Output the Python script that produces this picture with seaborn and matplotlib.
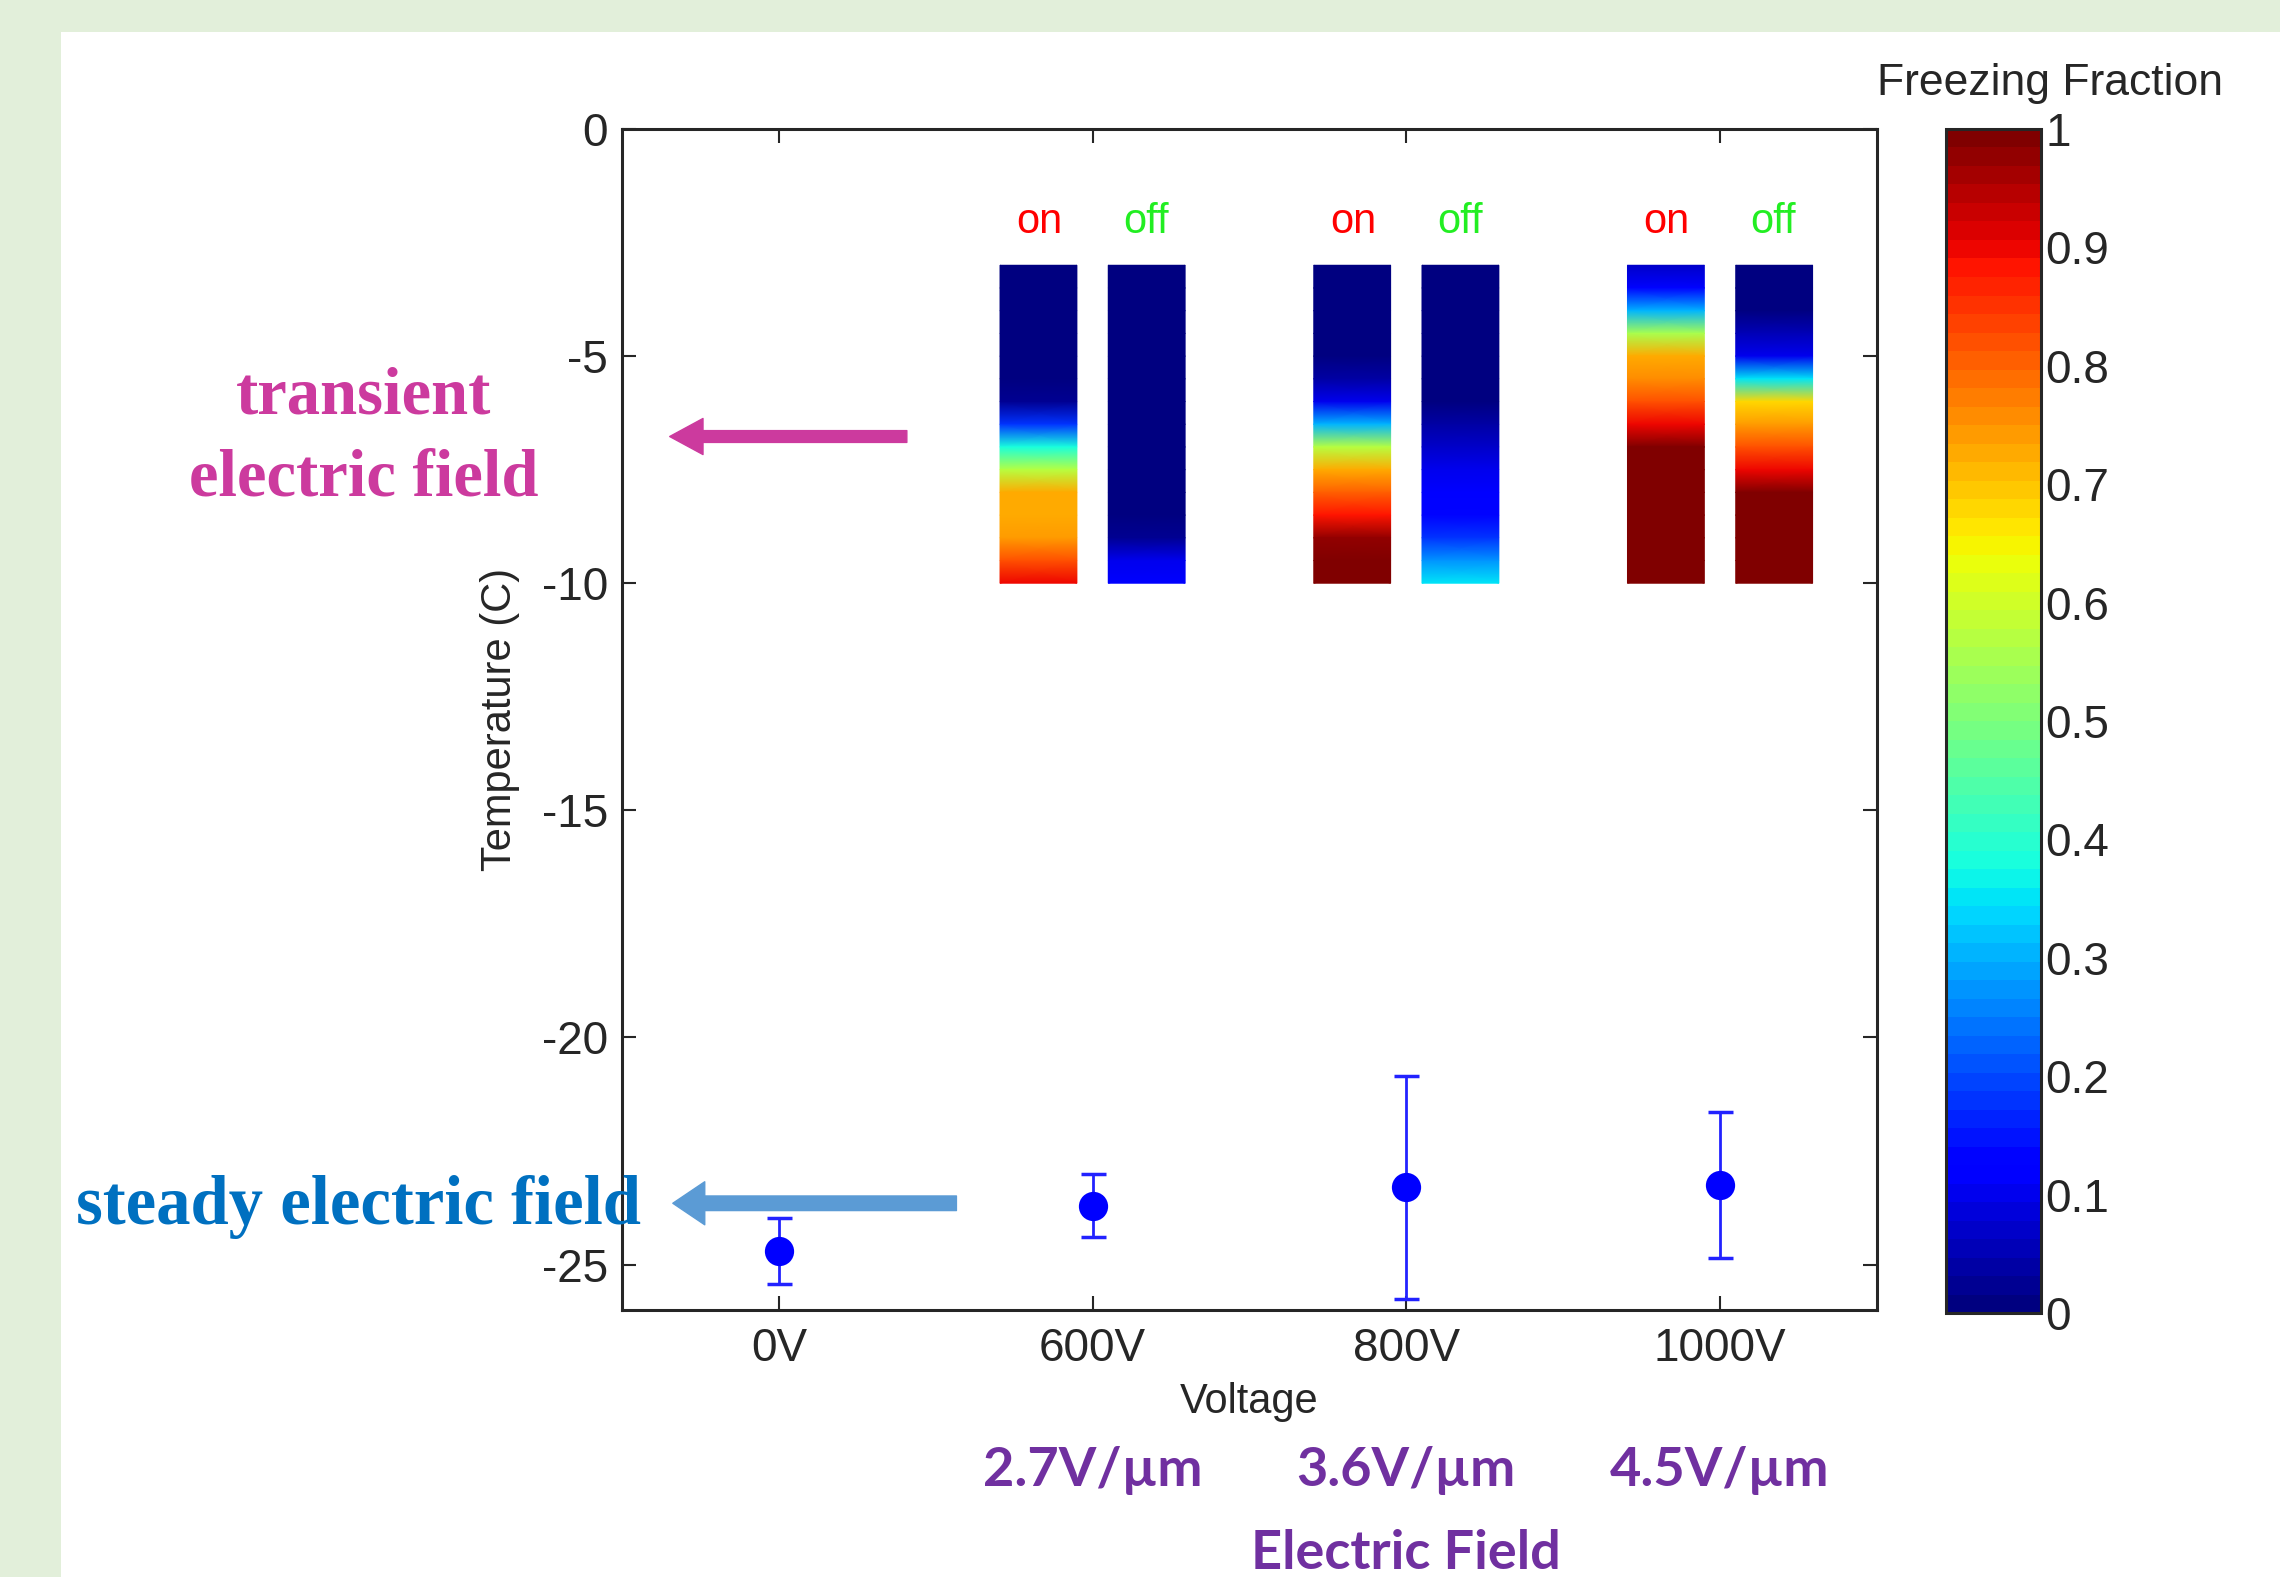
import numpy as np
import pandas as pd
import matplotlib
matplotlib.use("Agg")
import matplotlib.pyplot as plt
import seaborn as sns

# ----------------------------
# 1. Data
# ----------------------------
voltages = ["0V", "600V", "800V", "1000V"]
mean_temp = [-24.7, -23.7, -23.3, -23.25]
temp_err = [0.72, 0.69, 2.45, 1.6]

field_labels = ["2.7V/µm", "3.6V/µm", "4.5V/µm"]

# freezing-fraction profiles along the temperature axis (-3 C down to -10 C)
profile_temps = [-3.0, -3.5, -4.0, -4.5, -5.0, -5.5, -6.0, -6.5,
                 -7.0, -7.5, -8.0, -8.5, -9.0, -9.5, -10.0]
on_600 = [0, 0, 0, 0, 0, 0, 0.02, 0.18, 0.38, 0.57, 0.73, 0.73, 0.74, 0.82, 0.90]
off_600 = [0, 0, 0, 0, 0, 0, 0, 0, 0, 0, 0, 0, 0.02, 0.10, 0.12]
on_800 = [0, 0, 0, 0, 0, 0.04, 0.10, 0.30, 0.57, 0.72, 0.80, 0.89, 0.98, 1.0, 1.0]
off_800 = [0, 0, 0, 0, 0, 0, 0, 0.04, 0.07, 0.10, 0.11, 0.13, 0.18, 0.27, 0.35]
on_1000 = [0.07, 0.13, 0.30, 0.55, 0.72, 0.75, 0.82, 0.90, 1.0, 1.0, 1.0, 1.0, 1.0, 1.0, 1.0]
off_1000 = [0, 0, 0, 0.05, 0.10, 0.35, 0.68, 0.74, 0.82, 0.90, 1.0, 1.0, 1.0, 1.0, 1.0]

df = pd.DataFrame({"voltage": voltages, "temp": mean_temp, "err": temp_err})
df["pos"] = range(len(df))

# ----------------------------
# 2. Style
# ----------------------------
sns.set_style("ticks")
plt.rcParams["font.family"] = ["Liberation Sans Narrow", "Liberation Sans", "DejaVu Sans"]
plt.rcParams["axes.unicode_minus"] = False

fig = plt.figure(figsize=(22.8, 15.77), dpi=100, facecolor="#E2EFDA")
fig.patches.append(plt.Rectangle((0.0268, 0), 1 - 0.0268, 0.9797,
                                 transform=fig.transFigure, facecolor="white",
                                 edgecolor="none", zorder=-10))

ax = fig.add_axes([0.2728, 0.1693, 0.5504, 0.7489])
jet = plt.get_cmap("jet", 64)

# ----------------------------
# 3. Heat-map columns (on / off)
# ----------------------------
pairs = [(on_600, off_600), (on_800, off_800), (on_1000, off_1000)]
mesh = None
for k, (on, off) in enumerate(pairs):
    xc = k + 1
    for prof, (x0, x1) in [(on, (xc - 0.295, xc - 0.05)), (off, (xc + 0.05, xc + 0.295))]:
        X = [[x0, x1] for _ in profile_temps]
        Y = [[t, t] for t in profile_temps]
        C = [[v, v] for v in prof]
        mesh = ax.pcolormesh(X, Y, C, shading="gouraud", cmap=jet, vmin=0, vmax=1)
    ax.text(xc - 0.17, -2.05, "on", color="#FF0000", ha="center", va="center", fontsize=30)
    ax.text(xc + 0.17, -2.05, "off", color="#22EE22", ha="center", va="center", fontsize=30)

# ----------------------------
# 4. Mean freezing temperature with error bars
# ----------------------------
ax.errorbar(df["pos"], df["temp"], yerr=df["err"], fmt="none",
            ecolor="#2222FF", elinewidth=2, capsize=9, capthick=2.5, zorder=3)
sns.scatterplot(data=df, x="pos", y="temp", color="#0000FF", s=380,
                edgecolor="#0000FF", ax=ax, zorder=4, legend=False)

ax.set_xlim(-0.5, 3.5)
ax.set_ylim(-26, 0)
ax.set_xticks(df["pos"])
ax.set_xticklabels(voltages)
ax.set_yticks([0, -5, -10, -15, -20, -25])
ax.set_yticklabels(["0", "-5", "-10", "-15", "-20", "-25"])
ax.set_xlabel("Voltage", fontsize=30, labelpad=8)
ax.set_ylabel("Temperature (C)", fontsize=30, labelpad=16)
ax.tick_params(axis="both", direction="in", top=True, right=True,
               length=10, width=1.5, labelsize=33, color="#262626")
ax.tick_params(axis="x", pad=12)
ax.tick_params(axis="y", pad=10)
for s in ax.spines.values():
    s.set_linewidth(2.2)
    s.set_color("#262626")

# arrows pointing to the annotations
ax.annotate("", xy=(-0.348, -6.77), xytext=(0.408, -6.77),
            arrowprops=dict(arrowstyle="simple,head_length=2.4,head_width=2.6,tail_width=0.85",
                            color="#CC3A9E", shrinkA=0, shrinkB=0, mutation_scale=10))
ax.annotate("", xy=(-0.338, -23.65), xytext=(0.566, -23.65),
            arrowprops=dict(arrowstyle="simple,head_length=2.3,head_width=3.1,tail_width=1.05",
                            color="#5B9BD5", shrinkA=0, shrinkB=0, mutation_scale=10))

# electric field labels beneath the voltage axis
for k, lab in enumerate(field_labels):
    ax.text(k + 1, -0.136, lab, transform=ax.get_xaxis_transform(), ha="center", va="center",
            color="#7030A0", fontsize=39, fontweight="bold", family=["Lato", "DejaVu Sans"])
ax.text(2, -0.206, "Electric Field", transform=ax.get_xaxis_transform(), ha="center",
        va="center", color="#7030A0", fontsize=39, fontweight="bold", family=["Lato", "DejaVu Sans"])

# ----------------------------
# 5. Colorbar
# ----------------------------
cax = fig.add_axes([0.8535, 0.1674, 0.0417, 0.7508])
cb = fig.colorbar(mesh, cax=cax, ticks=[0, 0.1, 0.2, 0.3, 0.4, 0.5, 0.6, 0.7, 0.8, 0.9, 1])
cb.ax.set_yticklabels(["0", "0.1", "0.2", "0.3", "0.4", "0.5", "0.6", "0.7", "0.8", "0.9", "1"],
                      family=["Liberation Sans", "DejaVu Sans"])
cb.ax.tick_params(direction="in", left=True, right=True, length=12, width=2,
                  labelsize=33, pad=3, color="#262626")
cb.outline.set_linewidth(2.2)
cb.outline.set_edgecolor("#262626")
fig.text(0.899, 0.947, "Freezing Fraction", ha="center", va="center", fontsize=32,
         family=["Liberation Sans", "DejaVu Sans"], color="#262626")

# ----------------------------
# 6. Side annotations
# ----------------------------
fig.text(0.1596, 0.7225, "transient\nelectric field", ha="center", va="center",
         multialignment="center", color="#CC3A9E", fontsize=48, fontweight="bold",
         family=["Liberation Serif", "DejaVu Serif"], linespacing=1.45)
fig.text(0.0333, 0.2346, "steady electric field", ha="left", va="center",
         color="#0070C0", fontsize=49.5, fontweight="bold",
         family=["Liberation Serif", "DejaVu Serif"])

fig.savefig("out.png", dpi=100, facecolor=fig.get_facecolor())
